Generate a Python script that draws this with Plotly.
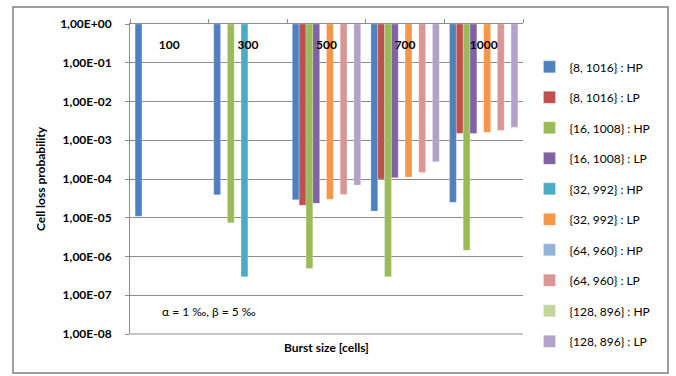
import plotly.graph_objects as go

categories = ["100", "300", "500", "700", "1000"]
series_names = [
    "{8, 1016} : HP", "{8, 1016} : LP",
    "{16, 1008} : HP", "{16, 1008} : LP",
    "{32, 992} : HP", "{32, 992} : LP",
    "{64, 960} : HP", "{64, 960} : LP",
    "{128, 896} : HP", "{128, 896} : LP",
]
s_8_1016_hp = [1.1e-5, 3.9e-5, 2.9e-5, 1.5e-5, 2.5e-5]
s_8_1016_lp = [None, None, 2.1e-5, 1.0e-4, 1.5e-3]
s_16_1008_hp = [None, 7.4e-6, 4.9e-7, 3.0e-7, 1.45e-6]
s_16_1008_lp = [None, None, 2.35e-5, 1.07e-4, 1.5e-3]
s_32_992_hp = [None, 3.0e-7, None, None, None]
s_32_992_lp = [None, None, 3.0e-5, 1.12e-4, 1.6e-3]
s_64_960_hp = [None, None, None, None, None]
s_64_960_lp = [None, None, 4.0e-5, 1.48e-4, 1.8e-3]
s_128_896_hp = [None, None, None, None, None]
s_128_896_lp = [None, None, 7.0e-5, 2.8e-4, 2.15e-3]
series_values = [s_8_1016_hp, s_8_1016_lp, s_16_1008_hp, s_16_1008_lp,
                 s_32_992_hp, s_32_992_lp, s_64_960_hp, s_64_960_lp,
                 s_128_896_hp, s_128_896_lp]
colors = ["#4F81BD", "#C0504D", "#9BBB59", "#8064A2", "#4BACC6",
          "#F79646", "#95B3D7", "#D99694", "#C3D69B", "#B3A2C7"]
y_tickvals = [1, 1e-1, 1e-2, 1e-3, 1e-4, 1e-5, 1e-6, 1e-7, 1e-8]
y_ticktext = ["1,00E+00", "1,00E-01", "1,00E-02", "1,00E-03", "1,00E-04",
              "1,00E-05", "1,00E-06", "1,00E-07", "1,00E-08"]
TOP = 1.0

FONT = "Lato"
GRAY = "#8c8c8c"

fig = go.Figure()
for i, (name, vals, col) in enumerate(zip(series_names, series_values, colors)):
    fig.add_trace(go.Bar(
        name=name, x=categories,
        y=[None if v is None else TOP - v for v in vals],
        base=[None if v is None else v for v in vals],
        marker=dict(color=col, line=dict(color="rgba(255,255,255,0.5)", width=0.5)),
        legendgroup=str(i),
    ))

fig.update_layout(
    width=676, height=376,
    margin=dict(l=130, r=153, t=24, b=42),
    paper_bgcolor="white", plot_bgcolor="white",
    barmode="group", bargap=0.13, bargroupgap=0,
    font=dict(family=FONT, size=12, color="black"),
    showlegend=True,
    legend=dict(x=1.0165, y=0.9085, xanchor="left", yanchor="top",
                font=dict(family=FONT, size=12), tracegroupgap=11.5,
                bgcolor="rgba(0,0,0,0)"),
    xaxis=dict(type="category", side="top", ticklabelposition="outside",
               ticklabelstandoff=-31,
               showline=True, linecolor=GRAY, linewidth=1,
               ticks="outside", tickson="boundaries", ticklen=4, tickcolor=GRAY,
               showgrid=False,
               tickfont=dict(family=FONT, size=12, weight="bold")),
    yaxis=dict(type="log", range=[-8, 0], tickvals=y_tickvals, ticktext=y_ticktext,
               showline=True, linecolor=GRAY, linewidth=1,
               ticks="outside", ticklen=4, tickcolor=GRAY,
               showgrid=True, gridcolor=GRAY, gridwidth=1,
               ticklabelstandoff=11,
               tickfont=dict(family=FONT, size=12, weight="bold")),
    annotations=[
        dict(text="<b>Cell loss probability</b>", xref="paper", yref="paper",
             x=-0.229, y=0.5, textangle=-90, showarrow=False,
             xanchor="center", yanchor="middle", font=dict(size=12)),
        dict(text="<b>Burst size [cells]</b>", xref="paper", yref="paper",
             x=0.5, y=-0.042, showarrow=False, xanchor="center", yanchor="middle",
             font=dict(size=12)),
        dict(text="α = 1 ‰, β = 5 ‰", xref="paper", yref="paper",
             x=0.201, y=0.071, showarrow=False, xanchor="center", yanchor="middle",
             font=dict(size=12)),
    ],
    shapes=[
        dict(type="rect", xref="paper", yref="paper",
             x0=-0.2977, x1=1.369, y0=-0.1258, y1=1.0548,
             line=dict(color="#7f7f7f", width=1.5), fillcolor="rgba(0,0,0,0)", layer="below"),
        dict(type="line", xref="paper", yref="paper", x0=0, x1=1, y0=0, y1=0,
             line=dict(color=GRAY, width=1)),
    ],
)

fig.write_html("out.html", config={"displayModeBar": False},
               post_script="document.body.style.margin='0';")
